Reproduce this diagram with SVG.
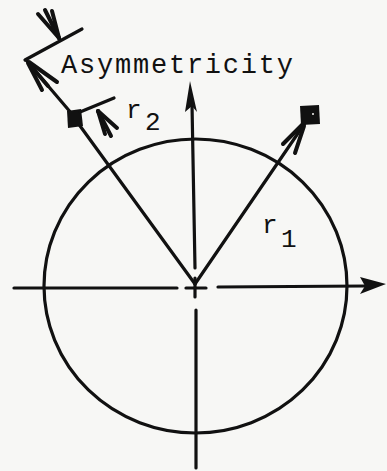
<svg xmlns="http://www.w3.org/2000/svg" width="387" height="471" viewBox="0 0 387 471">
<style>
.ln{stroke:#111;stroke-width:3.2;fill:none;stroke-linecap:round}
.bb{stroke:#111;stroke-width:4;fill:none;stroke-linecap:round}
.fl{fill:#111;stroke:none}
.tx{font-family:"Liberation Mono","DejaVu Sans Mono",monospace;fill:#111}
</style>
<rect width="387" height="471" fill="#f7f7f5"/>
<g id="circle">
<ellipse cx="195.5" cy="286" rx="151.5" ry="147" class="ln"/>
</g>
<g id="connectors">
<line x1="14" y1="288" x2="177" y2="288" class="ln"/>
<line x1="186" y1="288" x2="206" y2="288" class="ln"/>
<line x1="218" y1="287" x2="365" y2="286" class="ln"/>
<polygon points="386,284 360,277 365,286 360,294" class="fl"/>
<line x1="195" y1="268" x2="192" y2="104" class="ln"/>
<polygon points="190,81 197,112 192,106 185,112" class="fl"/>
<line x1="195" y1="278" x2="195" y2="297" class="ln"/>
<line x1="196" y1="310" x2="196" y2="468" class="ln"/>
</g>
<g id="r1">
<line x1="195" y1="284" x2="305" y2="123" class="ln"/>
<line x1="303" y1="124" x2="283" y2="144" class="bb"/>
<line x1="304" y1="126" x2="295" y2="153" class="bb"/>
<path d="M300,106 L319,105 L320,124 L301,125 Z" class="fl"/>
<circle cx="313" cy="114" r="1" fill="#f7f7f5"/>
</g>
<g id="r2">
<line x1="195" y1="284" x2="75" y2="119" class="ln"/>
<line x1="72" y1="114" x2="26" y2="60" class="ln"/>
<line x1="28" y1="63" x2="42" y2="90" class="bb"/>
<line x1="29" y1="62" x2="57" y2="82" class="bb"/>
<line x1="30" y1="65" x2="48" y2="86" class="bb"/>
<line x1="25" y1="60" x2="82" y2="29" class="ln"/>
<line x1="59" y1="38" x2="38" y2="14" class="bb"/>
<line x1="59" y1="38" x2="45" y2="10" class="bb"/>
<line x1="59" y1="38" x2="52" y2="11" class="bb"/>
<path d="M67,111 L81,109 L83,126 L68,128 Z" class="fl"/>
<line x1="80" y1="112" x2="114" y2="98" class="ln"/>
<line x1="98" y1="111" x2="105" y2="134" class="bb"/>
<line x1="98" y1="111" x2="111" y2="136" class="bb"/>
<line x1="98" y1="111" x2="117" y2="128" class="bb"/>
</g>
<g id="labels">
<text x="61" y="73" class="tx" font-size="27" textLength="232" lengthAdjust="spacing">Asymmetricity</text>
<text x="126" y="118" class="tx" font-size="26">r</text>
<text x="145" y="130" class="tx" font-size="26">2</text>
<text x="262" y="233" class="tx" font-size="26">r</text>
<text x="281" y="247" class="tx" font-size="26">1</text>
</g>
</svg>
